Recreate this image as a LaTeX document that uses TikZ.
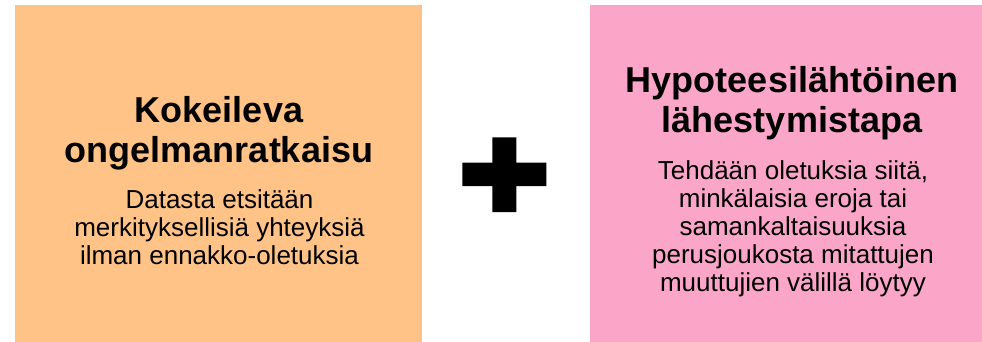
\documentclass[tikz,border=0pt]{standalone}
\usepackage{fontspec}
\setmainfont{Liberation Sans}
\definecolor{boxorange}{HTML}{FFC387}
\definecolor{boxpink}{HTML}{FBA6C9}
% text nodes are placed by the baseline of their last line
\tikzset{
  panel/.style={fill=#1, draw=none, inner sep=0pt, anchor=north west},
  heading/.style={align=center, inner sep=0pt, anchor=base,
    font=\fontsize{36}{39.5}\selectfont\bfseries},
  bodytext/.style={align=center, inner sep=0pt, anchor=base,
    font=\fontsize{26}{28.1}\selectfont},
}
\begin{document}
\begin{tikzpicture}[x=1pt,y=-1pt]
  \useasboundingbox (0,0) rectangle (982,342);
  % the two panels
  \node[panel=boxorange, minimum width=407pt, minimum height=337pt] (left) at (15,5) {};
  \node[panel=boxpink, minimum width=392pt, minimum height=337pt] (right) at (590,5) {};
  % left panel text
  \node[heading] (lefttitle) at (219,162) {Kokeileva\\ongelmanratkaisu};
  \node[bodytext] (leftbody) at (219.5,264.3) {Datasta etsitään\\merkityksellisiä yhteyksiä\\ilman ennakko-oletuksia};
  % right panel text
  \node[heading] (righttitle) at (792,132.3) {Hypoteesilähtöinen\\lähestymistapa};
  \node[bodytext] (rightbody) at (793,291.7) {Tehdään oletuksia siitä,\\minkälaisia eroja tai\\samankaltaisuuksia\\perusjoukosta mitattujen\\muuttujien välillä löytyy};
  % plus sign between the panels
  \fill[black] (492.3,137.3) -- (516.3,137.3) -- (516.3,162.7) -- (546.3,162.7)
    -- (546.3,186) -- (516.3,186) -- (516.3,212) -- (492.3,212) -- (492.3,186)
    -- (462.3,186) -- (462.3,162.7) -- (492.3,162.7) -- cycle;
\end{tikzpicture}
\end{document}
